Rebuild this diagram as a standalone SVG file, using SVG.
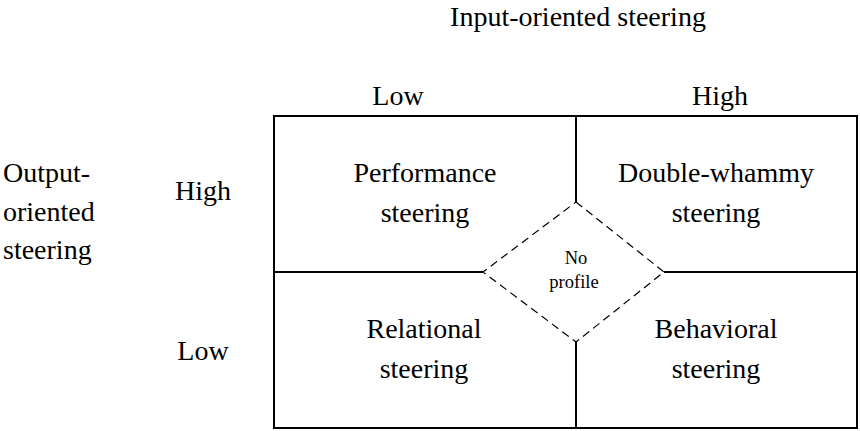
<svg xmlns="http://www.w3.org/2000/svg" width="860" height="431" viewBox="0 0 860 431">
<style>
.t{fill:#000;font-size:28px}
.c{text-anchor:middle}
.s{font-size:18.5px}
.ln{stroke:#000;stroke-width:2;fill:none}
.d{stroke:#000;stroke-width:1.2;fill:none;stroke-dasharray:8,5}
</style>
<rect width="860" height="431" fill="#fff"/>
<g font-family="Liberation Serif, Times New Roman, Tinos, DejaVu Serif, serif">
<g id="axis-labels">
<text class="t c" x="578" y="26">Input-oriented steering</text>
<text class="t c" x="398" y="105">Low</text>
<text class="t c" x="720" y="105">High</text>
<text class="t" x="3" y="182">Output-</text>
<text class="t" x="3" y="221">oriented</text>
<text class="t" x="3" y="259">steering</text>
<text class="t c" x="203" y="200">High</text>
<text class="t c" x="203" y="360">Low</text>
</g>
<g id="connectors">
<rect class="ln" x="274" y="116" width="583" height="312"/>
<line class="ln" x1="576" y1="116" x2="576" y2="202"/>
<line class="ln" x1="576" y1="342" x2="576" y2="428"/>
<line class="ln" x1="274" y1="272" x2="483" y2="272"/>
<line class="ln" x1="664" y1="272" x2="857" y2="272"/>
</g>
<g id="performance"><text class="t c" x="425" y="182">Performance</text><text class="t c" x="425" y="222">steering</text></g>
<g id="double-whammy"><text class="t c" x="716" y="182">Double-whammy</text><text class="t c" x="716" y="222">steering</text></g>
<g id="relational"><text class="t c" x="424" y="338">Relational</text><text class="t c" x="424" y="378">steering</text></g>
<g id="behavioral"><text class="t c" x="716" y="338">Behavioral</text><text class="t c" x="716" y="378">steering</text></g>
<g id="no-profile">
<polygon class="d" points="576,202 664,272 576,342 483,272"/>
<text class="t c s" x="576" y="264">No</text>
<text class="t c s" x="574" y="288">profile</text>
</g>
</g>
</svg>
